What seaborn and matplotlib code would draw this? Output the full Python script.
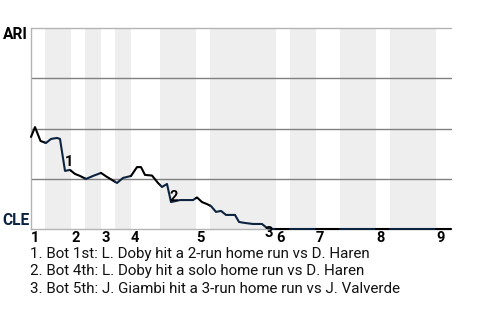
import numpy as np
import pandas as pd
import matplotlib
matplotlib.use("Agg")
import matplotlib.pyplot as plt
import seaborn as sns

# ---- data ----
# game progress (x) and ARI win probability (y)
progress = [0, 4, 9.5, 15, 20, 26, 29, 34, 39, 44, 49, 55, 62, 70, 76, 86, 92, 100,
            106, 110, 114, 121, 127, 131, 136, 140, 149, 162, 166, 171, 176, 180,
            185, 190, 195, 204, 208, 214, 222, 231, 236, 242, 420]
ari_wp = [0.458, 0.507, 0.438, 0.428, 0.448, 0.453, 0.448, 0.289, 0.294, 0.274,
          0.264, 0.249, 0.264, 0.279, 0.259, 0.229, 0.254, 0.264, 0.308, 0.308,
          0.269, 0.266, 0.229, 0.209, 0.224, 0.134, 0.144, 0.144, 0.157, 0.134,
          0.124, 0.114, 0.085, 0.090, 0.070, 0.070, 0.035, 0.030, 0.025, 0.025,
          0.005, 0.0, 0.0]
# half-inning boundaries (top 1st .. top 9th)
half_bounds = [0, 14, 40, 54, 70, 84, 100, 129, 165, 179, 245, 259, 285, 309,
               345, 359, 405, 420]
inning_labels = ["1", "2", "3", "4", "5", "6", "7", "8", "9"]
event_ids = ["1", "2", "3"]
event_x = [38, 143, 238]
event_y = [0.333, 0.159, -0.022]
event_texts = [
    "1. Bot 1st: L. Doby hit a 2-run home run vs D. Haren",
    "2. Bot 4th: L. Doby hit a solo home run vs D. Haren",
    "3. Bot 5th: J. Giambi hit a 3-run home run vs J. Valverde",
]
team_top = "ARI"
team_bottom = "CLE"

NAVY = "#0C2340"
BAND = "#EEEEEE"
GRID = "#808080"
EDGE = "#B4B4B4"

sns.set_theme(style="white")
plt.rcParams["font.family"] = ["Roboto", "DejaVu Sans"]

# build per-half-inning line pieces
px = np.array(progress, float)
py = np.array(ari_wp, float)
rows = []
for i in range(len(half_bounds) - 1):
    a, b = half_bounds[i], half_bounds[i + 1]
    inner = (px > a) & (px < b)
    xs = np.concatenate([[a], px[inner], [b]])
    ys = np.interp(xs, px, py)
    for xv, yv in zip(xs, ys):
        rows.append({"x": xv, "wp": yv, "half": i})
df = pd.DataFrame(rows)
palette = {i: ("black" if i % 2 == 0 else NAVY) for i in range(len(half_bounds) - 1)}

fig = plt.figure(figsize=(4.8, 3.2), dpi=100)
ax = fig.add_axes([31 / 480, 1 - 229 / 320, 420 / 480, 201 / 320])
ax.set_xlim(half_bounds[0], half_bounds[-1])
ax.set_ylim(0, 1)

# bottom-half bands
for i in range(1, len(half_bounds) - 1, 2):
    ax.axvspan(half_bounds[i], half_bounds[i + 1], color=BAND, lw=0, zorder=0)

for g in [0.25, 0.5, 0.75]:
    ax.axhline(g, color=GRID, lw=1.0, zorder=1, clip_on=False)
ax.axhline(1.0, color=EDGE, lw=1.0, zorder=1, clip_on=False)

sns.lineplot(data=df, x="x", y="wp", hue="half", palette=palette, estimator=None,
             sort=False, legend=False, lw=1.5, ax=ax, zorder=3, clip_on=False)

ax.set_xticks([])
ax.set_yticks([])
ax.set_xlabel("")
ax.set_ylabel("")
for s in ["top", "right"]:
    ax.spines[s].set_visible(False)
ax.spines["left"].set_color(EDGE)
ax.spines["left"].set_linewidth(1.0)
ax.spines["bottom"].set_color(EDGE)
ax.spines["bottom"].set_linewidth(1.0)

# inning labels at start of each inning
for k, lab in enumerate(inning_labels):
    ax.annotate(lab, xy=(half_bounds[2 * k], 0), xycoords=("data", "axes fraction"),
                xytext=(0, -9.2), textcoords="offset points", ha="left", va="baseline",
                fontsize=10.5, fontweight="bold", color="black", annotation_clip=False)

# event markers
for lab, ex, ey in zip(event_ids, event_x, event_y):
    ax.text(ex, ey, lab, ha="center", va="center", fontsize=10.5, fontweight="bold",
            color="black", clip_on=False, zorder=4)

fig.text(2.7 / 480, 1 - 39 / 320, team_top, ha="left", va="baseline", fontsize=11.2,
         fontweight="bold", color="black")
fig.text(2.7 / 480, 1 - 225 / 320, team_bottom, ha="left", va="baseline", fontsize=11.2,
         fontweight="bold", color=NAVY)

for j, t in enumerate(event_texts):
    fig.text(30.5 / 480, 1 - (257.7 + 17.8 * j) / 320, t, ha="left", va="baseline",
             fontsize=10.9, color="#111111")

fig.savefig("out.png", dpi=100, facecolor="white")
